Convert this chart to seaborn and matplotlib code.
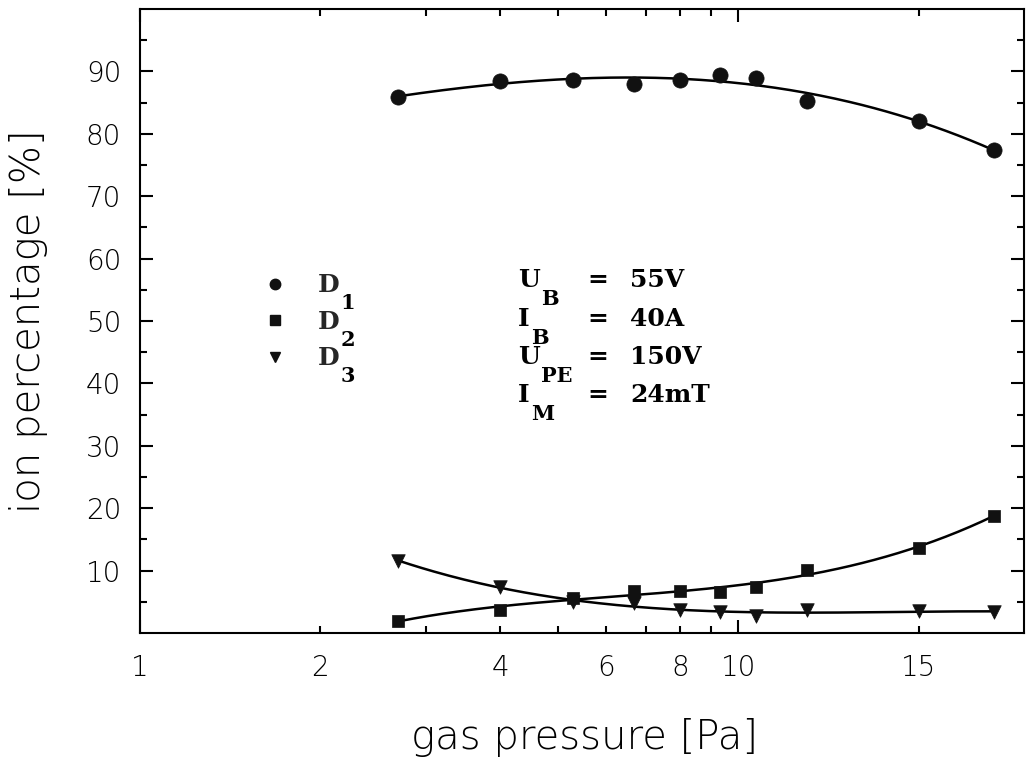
import numpy as np
import pandas as pd
import matplotlib
matplotlib.use("Agg")
import matplotlib.pyplot as plt
import seaborn as sns
from matplotlib.ticker import FixedLocator, FixedFormatter
from matplotlib.lines import Line2D

# gas pressure [Pa]
pressure = [2.7, 4.0, 5.3, 6.7, 8.0, 9.3, 10.7, 13.0, 20.0, 26.7]
# ion percentage [%] per species
d1 = [85.9, 88.5, 88.7, 88.0, 88.6, 89.4, 88.9, 85.3, 82.1, 77.4]
d2 = [2.0, 3.7, 5.6, 6.8, 6.8, 6.6, 7.4, 10.1, 13.7, 18.8]
d3 = [11.6, 7.3, 5.0, 4.8, 3.7, 3.3, 2.7, 3.7, 3.5, 3.4]

ion_names = ["D1", "D2", "D3"]
ion_subs = ["1", "2", "3"]
ion_markers = {"D1": "o", "D2": "s", "D3": "v"}
ion_sizes = {"D1": 120, "D2": 80, "D3": 95}

# axis ticks
x_major = [1, 10]
x_major_labels = ["1", "10"]
x_minor = [2, 3, 4, 5, 6, 7, 8, 9, 20]
x_minor_labels = ["2", "", "4", "", "6", "", "8", "", "15"]
y_major = [10, 20, 30, 40, 50, 60, 70, 80, 90]
y_minor = [5, 15, 25, 35, 45, 55, 65, 75, 85, 95]

# discharge parameters: symbol, subscript, value
params = [("U", "B", "55V"), ("I", "B", "40A"), ("U", "PE", "150V"), ("I", "M", "24mT")]

sns.set_style("ticks")
plt.rcParams["font.family"] = ["DejaVu Sans"]
plt.rcParams["axes.linewidth"] = 1.5

df = pd.DataFrame({
    "pressure": pressure * 3,
    "percentage": d1 + d2 + d3,
    "ion": [n for n in ion_names for _ in pressure],
})

# smooth fit curves (cubic in log pressure)
fit_rows = []
for name, vals in zip(ion_names, [d1, d2, d3]):
    coef = np.polyfit(np.log10(pressure), vals, 3)
    grid = np.geomspace(min(pressure), max(pressure), 200)
    fit_rows.append(pd.DataFrame({"pressure": grid,
                                  "percentage": np.polyval(coef, np.log10(grid)),
                                  "ion": name}))
fit_df = pd.concat(fit_rows, ignore_index=True)

fig = plt.figure(figsize=(10.26, 7.65), dpi=100)
ax = fig.add_axes([140 / 1026, 1 - 633 / 765, 884 / 1026, 624 / 765])

sns.lineplot(data=fit_df, x="pressure", y="percentage", units="ion", estimator=None,
             color="black", linewidth=1.8, ax=ax, legend=False)
for name in ion_names:
    sns.scatterplot(data=df[df["ion"] == name], x="pressure", y="percentage",
                    marker=ion_markers[name], s=ion_sizes[name], color="#111111",
                    edgecolor="#111111", linewidth=0.5, ax=ax, legend=False, zorder=3)

ax.set_xscale("log")
ax.set_xlim(1, 30)
ax.set_ylim(0, 100)

ax.xaxis.set_major_locator(FixedLocator(x_major))
ax.xaxis.set_major_formatter(FixedFormatter(x_major_labels))
ax.xaxis.set_minor_locator(FixedLocator(x_minor))
ax.xaxis.set_minor_formatter(FixedFormatter(x_minor_labels))
ax.yaxis.set_major_locator(FixedLocator(y_major))
ax.yaxis.set_minor_locator(FixedLocator(y_minor))

ax.tick_params(axis="both", which="both", direction="in", top=True, right=True,
               width=1.5, color="black", labelsize=20, labelcolor="black")
ax.tick_params(axis="both", which="major", length=9.5)
ax.tick_params(axis="both", which="minor", length=5)
ax.tick_params(axis="x", which="both", pad=15)
ax.tick_params(axis="y", which="both", pad=13.5)
for lab in ax.get_xticklabels(which="both") + ax.get_yticklabels():
    lab.set_fontweight(200)

for sp in ax.spines.values():
    sp.set_color("black")
    sp.set_linewidth(1.5)

ax.set_xlabel("gas pressure [Pa]", fontsize=29, fontweight=200, color="black")
ax.set_ylabel("ion percentage [%]", fontsize=29, fontweight=200, color="black")
ax.xaxis.set_label_coords(0.503, -0.137)
ax.yaxis.set_label_coords(-0.104, 0.5)

serif = dict(family="DejaVu Serif", weight="bold", color="black")

# species key
handles = [Line2D([], [], ls="none", marker=ion_markers[n], color="#111111",
                  markersize=ms) for n, ms in zip(ion_names, [7.5, 6.5, 7.5])]
leg = ax.legend(handles, ["D", "D", "D"], loc="center left",
                bbox_to_anchor=(0.139, 0.4985), frameon=False,
                prop=dict(family="DejaVu Serif", weight="bold", size=18),
                handlelength=1.0, handletextpad=1.2, labelspacing=0.5,
                borderpad=0, borderaxespad=0)
for txt, sub in zip(leg.get_texts(), ion_subs):
    ax.annotate(sub, xy=(1, 0), xycoords=txt, xytext=(1, 3), textcoords="offset points",
                ha="left", va="top", fontsize=15, **serif)

# parameter block
row_y = [0.5545, 0.492, 0.431, 0.370]
for (sym, sub, val), yy in zip(params, row_y):
    t = ax.text(0.4276, yy, sym, transform=ax.transAxes, ha="left", va="baseline",
                fontsize=18, **serif)
    ax.annotate(sub, xy=(1, 0), xycoords=t, xytext=(1, 2), textcoords="offset points",
                ha="left", va="top", fontsize=15, **serif)
    ax.text(0.5057, yy, "=", transform=ax.transAxes, ha="left", va="baseline",
            fontsize=18, **serif)
    ax.text(0.5543, yy, val, transform=ax.transAxes, ha="left", va="baseline",
            fontsize=18, **serif)

fig.canvas.draw()
fig.savefig("out.png", dpi=100, facecolor="white")
